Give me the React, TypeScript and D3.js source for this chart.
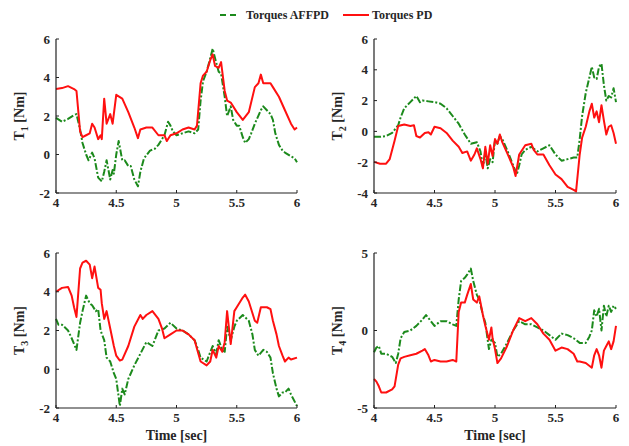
import React from "react";
import * as d3 from "d3";

type P = [number, number];

const SERIES_NAMES = ["Torques AFFPD", "Torques PD"];
const X_TICKS = [4, 4.5, 5, 5.5, 6];
const Y_LABELS = ["T1", "T2", "T3", "T4"];
const Y_DOMAINS: [number, number][] = [[-2, 6], [-4, 6], [-2, 6], [-5, 5]];
const Y_TICKS = [[-2, 0, 2, 4, 6], [-4, -2, 0, 2, 4, 6], [-2, 0, 2, 4, 6], [-5, 0, 5]];

const T1_PD: P[] = [[4.0,3.4],[4.05,3.45],[4.1,3.55],[4.15,3.4],[4.17,3.3],[4.2,1.2],[4.22,0.9],[4.25,1.0],[4.28,1.1],[4.3,1.6],[4.32,1.4],[4.35,0.8],[4.37,1.0],[4.38,0.8],[4.4,2.9],[4.42,1.6],[4.45,2.1],[4.47,1.6],[4.5,3.1],[4.55,2.9],[4.6,2.2],[4.65,1.4],[4.68,0.85],[4.7,1.3],[4.75,1.4],[4.8,1.4],[4.85,1.0],[4.9,1.0],[4.92,0.7],[4.95,1.0],[5.0,1.1],[5.05,1.3],[5.1,1.4],[5.15,1.3],[5.17,1.5],[5.2,3.7],[5.22,4.1],[5.25,4.3],[5.28,4.9],[5.3,5.2],[5.32,4.6],[5.35,4.5],[5.37,4.8],[5.4,3.3],[5.42,2.8],[5.45,2.7],[5.5,2.2],[5.55,1.8],[5.6,2.2],[5.65,3.5],[5.68,3.7],[5.7,4.15],[5.72,3.7],[5.75,3.7],[5.78,3.7],[5.8,3.5],[5.85,3.0],[5.9,2.3],[5.95,1.6],[5.98,1.3],[6.0,1.4]];
const T1_AFFPD: P[] = [[4.0,1.9],[4.05,1.7],[4.1,1.85],[4.15,2.05],[4.17,2.1],[4.2,1.3],[4.22,0.6],[4.25,0.0],[4.27,-0.3],[4.3,0.1],[4.32,-0.2],[4.35,-1.2],[4.38,-1.4],[4.4,-0.9],[4.42,-0.3],[4.45,-1.3],[4.47,-0.8],[4.48,-1.0],[4.5,0.0],[4.52,0.7],[4.55,-0.3],[4.57,-0.3],[4.6,-0.6],[4.62,-0.6],[4.65,-1.3],[4.68,-1.65],[4.7,-0.9],[4.73,-0.2],[4.78,0.2],[4.82,0.3],[4.85,0.5],[4.88,0.8],[4.9,1.0],[4.93,1.7],[4.95,1.5],[4.97,1.2],[5.0,1.0],[5.05,1.1],[5.1,1.2],[5.15,1.1],[5.18,1.3],[5.2,2.8],[5.22,3.8],[5.25,4.3],[5.28,5.0],[5.3,5.5],[5.32,5.0],[5.35,4.3],[5.37,4.2],[5.4,3.0],[5.42,2.0],[5.45,2.5],[5.47,1.8],[5.5,1.5],[5.52,1.5],[5.55,0.9],[5.57,0.6],[5.6,0.8],[5.62,1.1],[5.65,1.6],[5.7,2.3],[5.72,2.5],[5.75,2.3],[5.78,2.1],[5.8,1.8],[5.82,1.1],[5.85,0.5],[5.88,0.2],[5.9,0.1],[5.95,-0.1],[5.98,-0.2],[6.0,-0.4]];

const T2_PD: P[] = [[4.0,-1.98],[4.05,-2.1],[4.1,-2.1],[4.13,-1.8],[4.17,-0.6],[4.2,0.35],[4.25,0.45],[4.3,0.35],[4.33,0.4],[4.35,-0.3],[4.38,-0.4],[4.42,-0.1],[4.45,-0.05],[4.47,-0.2],[4.5,0.3],[4.55,0.2],[4.6,-0.1],[4.65,-0.6],[4.7,-1.0],[4.73,-1.4],[4.77,-1.3],[4.8,-1.9],[4.83,-1.5],[4.85,-1.1],[4.88,-1.8],[4.9,-2.4],[4.92,-1.0],[4.94,-2.1],[4.96,-0.9],[4.98,-1.6],[5.0,-0.5],[5.02,-0.8],[5.04,-0.2],[5.06,-0.7],[5.1,-1.4],[5.15,-2.3],[5.17,-2.9],[5.2,-1.5],[5.25,-0.9],[5.3,-0.8],[5.32,-1.2],[5.35,-1.5],[5.4,-1.5],[5.45,-2.2],[5.5,-2.8],[5.55,-3.1],[5.6,-3.6],[5.65,-3.8],[5.67,-3.9],[5.7,-1.5],[5.72,-0.4],[5.75,0.3],[5.78,1.3],[5.8,1.8],[5.82,0.9],[5.84,1.3],[5.86,0.6],[5.88,1.7],[5.9,0.7],[5.92,-0.2],[5.94,0.3],[5.96,0.4],[5.98,-0.1],[6.0,-0.8]];
const T2_AFFPD: P[] = [[4.0,-0.35],[4.05,-0.35],[4.1,-0.3],[4.15,-0.1],[4.2,0.4],[4.22,0.9],[4.25,1.5],[4.3,1.9],[4.35,2.3],[4.38,1.9],[4.4,2.0],[4.45,1.95],[4.5,1.9],[4.55,1.8],[4.6,1.5],[4.65,1.0],[4.7,0.5],[4.75,-0.2],[4.8,-0.8],[4.85,-0.7],[4.88,-1.3],[4.9,-2.3],[4.92,-1.4],[4.94,-2.4],[4.96,-1.8],[4.98,-2.0],[5.0,-0.6],[5.02,-0.8],[5.04,-0.3],[5.06,-0.5],[5.1,-1.2],[5.15,-2.2],[5.18,-2.8],[5.2,-2.2],[5.22,-1.5],[5.25,-1.2],[5.3,-1.0],[5.35,-1.3],[5.4,-1.1],[5.45,-0.9],[5.5,-1.5],[5.55,-1.9],[5.6,-1.8],[5.65,-1.7],[5.68,-1.7],[5.7,-0.5],[5.72,1.0],[5.75,2.5],[5.78,3.5],[5.8,4.2],[5.82,3.5],[5.84,3.4],[5.86,4.2],[5.88,4.4],[5.9,3.0],[5.92,2.0],[5.94,2.3],[5.96,2.2],[5.98,2.8],[6.0,1.9]];

const T3_PD: P[] = [[4.0,4.0],[4.05,4.2],[4.1,4.25],[4.13,3.8],[4.15,3.2],[4.17,2.7],[4.2,5.2],[4.22,5.5],[4.25,5.6],[4.28,5.4],[4.3,4.7],[4.32,5.3],[4.35,4.2],[4.37,4.1],[4.38,3.4],[4.4,2.6],[4.42,3.0],[4.45,2.1],[4.48,1.2],[4.5,0.7],[4.53,0.45],[4.55,0.5],[4.6,1.2],[4.65,2.2],[4.7,2.8],[4.72,2.6],[4.75,2.8],[4.8,3.0],[4.85,2.6],[4.88,2.1],[4.9,1.6],[4.95,1.8],[5.0,2.0],[5.05,2.0],[5.1,1.8],[5.15,1.5],[5.2,0.4],[5.25,0.2],[5.28,0.4],[5.3,1.0],[5.33,0.6],[5.35,1.2],[5.38,0.9],[5.4,1.4],[5.42,3.0],[5.45,1.3],[5.48,3.0],[5.5,3.2],[5.55,3.7],[5.57,3.85],[5.6,3.5],[5.65,2.5],[5.67,2.4],[5.7,3.2],[5.75,3.2],[5.78,3.1],[5.8,2.5],[5.83,1.8],[5.85,1.2],[5.88,0.7],[5.9,0.4],[5.93,0.6],[5.95,0.5],[6.0,0.6]];
const T3_AFFPD: P[] = [[4.0,2.6],[4.02,2.3],[4.05,2.3],[4.1,2.0],[4.13,1.6],[4.17,1.0],[4.2,2.4],[4.22,3.0],[4.25,3.8],[4.28,3.4],[4.3,3.3],[4.33,3.0],[4.35,3.1],[4.37,2.0],[4.4,1.5],[4.42,0.6],[4.45,0.4],[4.48,-0.2],[4.5,-0.5],[4.53,-1.9],[4.55,-1.0],[4.57,-1.3],[4.6,-0.5],[4.65,0.2],[4.7,0.8],[4.75,1.4],[4.8,1.2],[4.85,2.0],[4.9,2.1],[4.95,2.4],[5.0,2.1],[5.05,2.0],[5.1,1.8],[5.15,1.5],[5.18,1.0],[5.2,0.6],[5.25,0.4],[5.3,1.2],[5.33,0.8],[5.35,1.5],[5.38,1.0],[5.4,0.9],[5.42,2.2],[5.45,1.5],[5.48,2.2],[5.5,2.5],[5.55,2.8],[5.6,2.5],[5.63,1.8],[5.65,1.0],[5.68,0.7],[5.72,1.0],[5.75,0.9],[5.78,0.6],[5.8,-0.2],[5.83,-1.0],[5.85,-1.4],[5.88,-1.2],[5.9,-1.2],[5.93,-1.0],[5.95,-1.3],[6.0,-1.9]];

const T4_PD: P[] = [[4.0,-3.13],[4.02,-3.3],[4.04,-3.6],[4.06,-4.0],[4.1,-4.0],[4.15,-3.8],[4.17,-3.6],[4.2,-2.2],[4.22,-1.8],[4.25,-1.7],[4.3,-1.6],[4.35,-1.5],[4.4,-1.3],[4.42,-1.2],[4.45,-1.6],[4.47,-2.0],[4.5,-1.9],[4.55,-2.0],[4.6,-2.0],[4.65,-1.9],[4.68,-2.0],[4.7,1.2],[4.72,1.8],[4.75,1.8],[4.77,2.3],[4.8,3.0],[4.82,2.0],[4.85,1.8],[4.87,2.2],[4.9,1.0],[4.92,0.3],[4.95,-0.6],[4.97,0.2],[4.98,-0.5],[5.0,-1.2],[5.02,-2.1],[5.05,-1.8],[5.1,-1.0],[5.15,0.0],[5.2,0.8],[5.25,0.6],[5.3,0.8],[5.35,0.4],[5.4,-0.2],[5.45,-0.6],[5.5,-1.3],[5.55,-1.1],[5.6,-1.2],[5.65,-1.5],[5.68,-2.0],[5.7,-2.0],[5.75,-2.1],[5.8,-2.4],[5.82,-1.6],[5.84,-1.2],[5.86,-1.6],[5.88,-2.4],[5.9,-1.3],[5.92,-1.0],[5.94,-0.7],[5.96,-1.2],[5.98,-0.7],[6.0,0.3]];
const T4_AFFPD: P[] = [[4.0,-1.4],[4.02,-1.1],[4.04,-1.0],[4.06,-1.5],[4.1,-1.5],[4.15,-1.7],[4.18,-2.1],[4.2,-1.5],[4.22,-0.5],[4.25,-0.1],[4.3,0.0],[4.35,0.3],[4.4,0.7],[4.43,1.0],[4.47,0.6],[4.5,0.3],[4.55,0.6],[4.6,0.6],[4.65,0.4],[4.68,0.3],[4.7,2.0],[4.72,3.2],[4.75,3.4],[4.77,3.6],[4.8,4.0],[4.82,3.2],[4.85,2.3],[4.87,2.0],[4.9,1.0],[4.92,0.5],[4.95,-1.2],[4.97,-0.6],[5.0,-0.8],[5.02,-1.7],[5.05,-1.5],[5.1,-0.8],[5.15,0.0],[5.2,0.6],[5.25,0.4],[5.3,0.4],[5.35,0.2],[5.4,0.0],[5.45,-0.3],[5.5,-0.6],[5.55,-0.2],[5.6,-0.3],[5.65,-0.5],[5.7,-0.8],[5.75,-0.8],[5.78,-0.4],[5.8,0.0],[5.82,1.3],[5.84,0.9],[5.86,1.4],[5.88,0.0],[5.9,1.6],[5.92,0.9],[5.94,1.6],[5.96,1.2],[5.98,1.6],[6.0,1.4]];

const PD_SERIES = [T1_PD, T2_PD, T3_PD, T4_PD];
const AFFPD_SERIES = [T1_AFFPD, T2_AFFPD, T3_AFFPD, T4_AFFPD];

const GREEN = "#1c8a1c";
const RED = "#ff1010";
const FONT = "'Liberation Serif', 'Times New Roman', serif";

const PANELS = [
  { x0: 56, x1: 297, y0: 39, y1: 193, showX: false },
  { x0: 374, x1: 616, y0: 39, y1: 193, showX: false },
  { x0: 56, x1: 297, y0: 253, y1: 408, showX: true },
  { x0: 374, x1: 616, y0: 253, y1: 408, showX: true },
];

function Panel({ i }: { i: number }) {
  const p = PANELS[i];
  const x = d3.scaleLinear().domain([4, 6]).range([p.x0, p.x1]);
  const y = d3.scaleLinear().domain(Y_DOMAINS[i]).range([p.y1, p.y0]);
  const line = d3.line<P>().x((d) => x(d[0])).y((d) => y(d[1]));
  const label = Y_LABELS[i];
  const cy = (p.y0 + p.y1) / 2;
  return (
    <g>
      <path d={line(AFFPD_SERIES[i]) || ""} fill="none" stroke={GREEN} strokeWidth={2} strokeDasharray="7,2,2,2" strokeLinejoin="round" />
      <path d={line(PD_SERIES[i]) || ""} fill="none" stroke={RED} strokeWidth={2} strokeLinejoin="round" />
      <line x1={p.x0} x2={p.x0} y1={p.y0} y2={p.y1} stroke="#222" strokeWidth={1.2} />
      <line x1={p.x0} x2={p.x1} y1={p.y1} y2={p.y1} stroke="#222" strokeWidth={1.2} />
      {Y_TICKS[i].map((t) => (
        <g key={"y" + t}>
          <line x1={p.x0} x2={p.x0 + 3} y1={y(t)} y2={y(t)} stroke="#222" strokeWidth={1} />
          <text x={p.x0 - 6} y={y(t)} dy="0.35em" textAnchor="end" fontFamily={FONT} fontWeight="bold" fontSize={13} fill="#262626">{t}</text>
        </g>
      ))}
      {X_TICKS.map((t) => (
        <g key={"x" + t}>
          <line x1={x(t)} x2={x(t)} y1={p.y1} y2={p.y1 - 3} stroke="#222" strokeWidth={1} />
          <text x={x(t)} y={p.y1 + 14} textAnchor="middle" fontFamily={FONT} fontWeight="bold" fontSize={13} fill="#262626">{t}</text>
        </g>
      ))}
      <text transform={`translate(${p.x0 - 32},${cy}) rotate(-90)`} textAnchor="middle" fontFamily={FONT} fontWeight="bold" fontSize={14} fill="#262626">
        {label[0]}
        <tspan fontSize={10} dy={4}>{label.slice(1)}</tspan>
        <tspan dy={-4}> [Nm]</tspan>
      </text>
      {p.showX && (
        <text x={(p.x0 + p.x1) / 2} y={p.y1 + 32} textAnchor="middle" fontFamily={FONT} fontWeight="bold" fontSize={14} fill="#262626">Time [sec]</text>
      )}
    </g>
  );
}

export default function App() {
  return (
    <svg width={629} height={446} style={{ position: "absolute", left: 0, top: 0, background: "#fff" }}>
      <rect width={629} height={446} fill="#fff" />
      <g>
        <line x1={220} x2={240} y1={15} y2={15} stroke={GREEN} strokeWidth={2} strokeDasharray="6,4" />
        <text x={246} y={19} fontFamily={FONT} fontWeight="bold" fontSize={12} fill="#262626">{SERIES_NAMES[0]}</text>
        <line x1={343} x2={369} y1={15} y2={15} stroke={RED} strokeWidth={2} />
        <text x={372} y={19} fontFamily={FONT} fontWeight="bold" fontSize={12} fill="#262626">{SERIES_NAMES[1]}</text>
      </g>
      {[0, 1, 2, 3].map((i) => <Panel key={i} i={i} />)}
    </svg>
  );
}
